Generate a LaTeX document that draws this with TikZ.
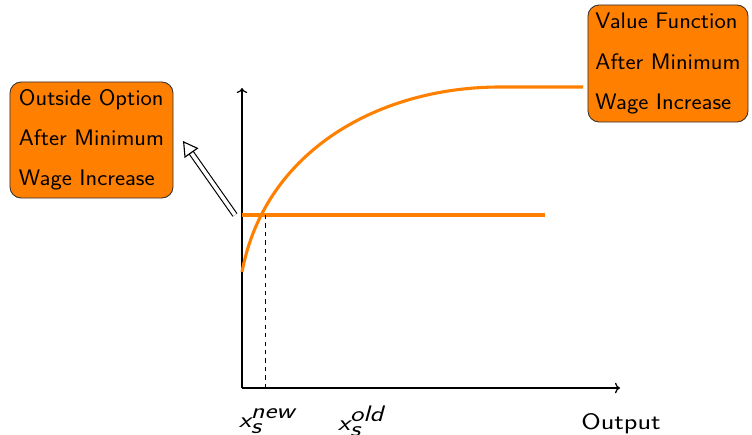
\documentclass[tikz,border=0pt]{standalone}
\usepackage{tikz}
\usetikzlibrary{arrows.meta,positioning,calc}
\definecolor{wageor}{HTML}{FF8000}
\definecolor{boxline}{HTML}{303030}
\tikzset{
  wide/.style    ={xscale=1.25,transform shape},
  infobox/.style ={xscale=1.07,transform shape,rounded corners=8pt,draw=boxline,
                   line width=0.6pt,fill=wageor,align=left,inner sep=5pt,
                   font=\sffamily\fontsize{16}{28.5}\selectfont},
  axis/.style    ={->,line width=0.9pt,draw=black},
  valcurve/.style={line width=2.2pt,draw=wageor},
  shaft/.style   ={double,double distance=2.6pt,line width=0.8pt,shorten >=3.5mm},
  tiphead/.style ={line width=0.8pt,-{Triangle[open,length=3.7mm,width=4.2mm]}}
}
\begin{document}
\begin{tikzpicture}[x=0.025cm,y=-0.025cm,font=\sffamily\fontsize{16}{19}\selectfont]
  \useasboundingbox (0,0) rectangle (752,435);
  % axes
  \coordinate (orig) at (242,388);
  \coordinate (ytop) at (242,88);
  \coordinate (xend) at (620,388);
  \draw[axis] (orig) -- (ytop);
  \draw[axis] (orig) -- (xend);
  % outside option and value function
  \coordinate (oostart) at (242,215);
  \coordinate (ooend) at (545,215);
  \draw[valcurve] (oostart) -- (ooend);
  \coordinate (vfstart) at (242,272);
  \coordinate (vftop) at (500,87);
  \coordinate (vfend) at (583,87);
  \draw[valcurve] (vfstart) .. controls (265,150) and (380,87) .. (vftop) -- (vfend);
  % crossing point
  \coordinate (cross) at (265,215);
  \coordinate (xnew) at (265,388);
  \draw[dashed,line width=0.5pt] (cross) -- (xnew);
  % labels
  \node[wide] (lnew) at (267,421) {$\textit{x}_{\textit{s}}^{\textit{new}}$};
  \node[wide] (lold) at (361,421) {$\textit{x}_{\textit{s}}^{\textit{old}}$};
  \node[wide] (lout) at (621,424) {Output};
  % boxes
  \node[infobox,minimum width=3.81cm,minimum height=2.9cm] (obox) at (91.5,140)
    {Outside Option\\After Minimum\\Wage Increase};
  \node[infobox,minimum width=3.6cm,minimum height=2.925cm] (vbox) at (668,63.5)
    {Value Function\\After Minimum\\Wage Increase};
  % pointer to the outside option
  \coordinate (ptail) at (235,215);
  \coordinate (phead) at (183,141);
  \draw[shaft] (ptail) -- (phead);
  \draw[tiphead] ($(phead)!3.7mm!(ptail)$) -- (phead);
\end{tikzpicture}
\end{document}
